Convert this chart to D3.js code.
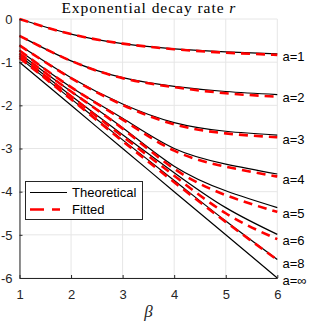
<!DOCTYPE html>
<html lang="en"><head>
<meta charset="utf-8">
<title>Exponential decay rate</title>
<script src="https://cdnjs.cloudflare.com/ajax/libs/d3/7.8.5/d3.min.js"></script>
<style>
  body { margin: 0; background: #fff; }
  svg { display: block; }
  .tick text { font-family: "Liberation Sans", Arial, sans-serif; font-size: 13px; fill: #262626; }
</style>
</head>
<body>
<svg id="chart" width="317" height="325"></svg>
<script>
// beta values where curves are sampled
var betas = [1, 2, 3, 4, 5, 6];
var aLabels = ["a=1", "a=2", "a=3", "a=4", "a=5", "a=6", "a=8", "a=\u221e"];

// theoretical r for each a
var theo1 = [0, -0.35, -0.57, -0.69, -0.76, -0.81];
var theo2 = [-0.39, -0.97, -1.36, -1.56, -1.68, -1.75];
var theo3 = [-0.61, -1.36, -1.97, -2.40, -2.60, -2.69];
var theo4 = [-0.73, -1.58, -2.30, -3.00, -3.36, -3.59];
var theo5 = [-0.80, -1.68, -2.52, -3.41, -3.98, -4.37];
var theo6 = [-0.85, -1.78, -2.68, -3.56, -4.37, -4.99];
var theo8 = [-0.90, -1.85, -2.80, -3.74, -4.68, -5.57];
var theoInf = [-1, -2, -3, -4, -5, -6];

// fitted r for each a (no fit shown for a=inf)
var fit1 = [0, -0.35, -0.57, -0.70, -0.78, -0.83];
var fit2 = [-0.39, -0.97, -1.37, -1.58, -1.72, -1.80];
var fit3 = [-0.61, -1.37, -1.99, -2.44, -2.65, -2.74];
var fit4 = [-0.73, -1.58, -2.33, -3.05, -3.42, -3.65];
var fit5 = [-0.80, -1.68, -2.54, -3.47, -4.08, -4.47];
var fit6 = [-0.85, -1.79, -2.72, -3.63, -4.50, -5.10];
var fit8 = [-0.90, -1.86, -2.83, -3.78, -4.70, -5.58];

// where the right-hand labels sit (r units)
var labelR = [-0.87, -1.82, -2.78, -3.71, -4.50, -5.13, -5.66, -6.06];

var xTicks = [1, 2, 3, 4, 5, 6];
var yTicks = [0, -1, -2, -3, -4, -5, -6];

var theoSeries = [theo1, theo2, theo3, theo4, theo5, theo6, theo8, theoInf];
var fitSeries = [fit1, fit2, fit3, fit4, fit5, fit6, fit8];

var svg = d3.select("#chart");
var x = d3.scaleLinear().domain([1, 6]).range([19.5, 277.3]);
var y = d3.scaleLinear().domain([0, -6]).range([19, 278]);

// grid
svg.append("g").selectAll("line").data(xTicks).enter().append("line")
  .attr("x1", d => x(d)).attr("x2", d => x(d))
  .attr("y1", y(0)).attr("y2", y(-6))
  .attr("stroke", "#e6e6e6").attr("stroke-width", 1);
svg.append("g").selectAll("line").data(yTicks).enter().append("line")
  .attr("x1", x(1)).attr("x2", x(6))
  .attr("y1", d => y(d)).attr("y2", d => y(d))
  .attr("stroke", "#e6e6e6").attr("stroke-width", 1);

var line = d3.line()
  .x((d, i) => x(betas[i]))
  .y(d => y(d))
  .curve(d3.curveNatural);

svg.append("g").selectAll("path").data(theoSeries).enter().append("path")
  .attr("d", line)
  .attr("fill", "none").attr("stroke", "#000").attr("stroke-width", 1.2);

svg.append("g").selectAll("path").data(fitSeries).enter().append("path")
  .attr("d", line)
  .attr("fill", "none").attr("stroke", "#f00").attr("stroke-width", 2.6)
  .attr("stroke-dasharray", "9,6");

// axes, MATLAB style ticks inside
var xAxis = svg.append("g").attr("transform", "translate(0," + y(-6) + ")")
  .call(d3.axisBottom(x).tickValues(xTicks).tickSize(-3).tickPadding(12).tickSizeOuter(0)
    .tickFormat(d3.format("d")));
var yAxis = svg.append("g").attr("transform", "translate(" + x(1) + ",0)")
  .call(d3.axisLeft(y).tickValues(yTicks).tickSize(-3).tickPadding(7).tickSizeOuter(0)
    .tickFormat(d => d < 0 ? "-" + (-d) : "" + d));
[xAxis, yAxis].forEach(function(g) {
  g.select(".domain").attr("stroke", "#262626");
  g.selectAll(".tick line").attr("stroke", "#262626");
  g.attr("font-family", null).attr("font-size", null);
});

// right-hand curve labels
svg.append("g").selectAll("text").data(aLabels).enter().append("text")
  .attr("x", 282.5).attr("y", (d, i) => y(labelR[i]))
  .attr("dy", "0.35em")
  .attr("font-family", "Liberation Sans, Arial, sans-serif").attr("font-size", 13)
  .attr("fill", "#000")
  .text(d => d);

// title
var title = svg.append("text").attr("x", x(3.5)).attr("y", 13)
  .attr("text-anchor", "middle")
  .attr("font-family", "Liberation Serif, Times New Roman, serif").attr("font-size", 15.5)
  .attr("textLength", 174).attr("lengthAdjust", "spacing")
  .attr("fill", "#000");
title.append("tspan").text("Exponential decay rate ");
title.append("tspan").attr("font-style", "italic").text("r");

// x label
svg.append("text").attr("x", x(3.5)).attr("y", 317)
  .attr("text-anchor", "middle")
  .attr("font-family", "Liberation Serif, Times New Roman, serif").attr("font-size", 17)
  .attr("font-style", "italic").attr("fill", "#262626")
  .text("\u03b2");

// legend
var leg = svg.append("g");
leg.append("rect").attr("x", 25.5).attr("y", 181.5).attr("width", 117).attr("height", 38)
  .attr("fill", "#fff").attr("stroke", "#262626").attr("stroke-width", 1);
leg.append("line").attr("x1", 30).attr("x2", 67).attr("y1", 192.5).attr("y2", 192.5)
  .attr("stroke", "#000").attr("stroke-width", 1.2);
leg.append("line").attr("x1", 30).attr("x2", 60).attr("y1", 209.5).attr("y2", 209.5)
  .attr("stroke", "#f00").attr("stroke-width", 2.6).attr("stroke-dasharray", "14,8");
leg.selectAll("text").data(["Theoretical", "Fitted"]).enter().append("text")
  .attr("x", 72).attr("y", (d, i) => 192.5 + i * 17)
  .attr("dy", "0.35em")
  .attr("font-family", "Liberation Sans, Arial, sans-serif").attr("font-size", 13)
  .attr("fill", "#000")
  .text(d => d);
</script>
</body></html>
